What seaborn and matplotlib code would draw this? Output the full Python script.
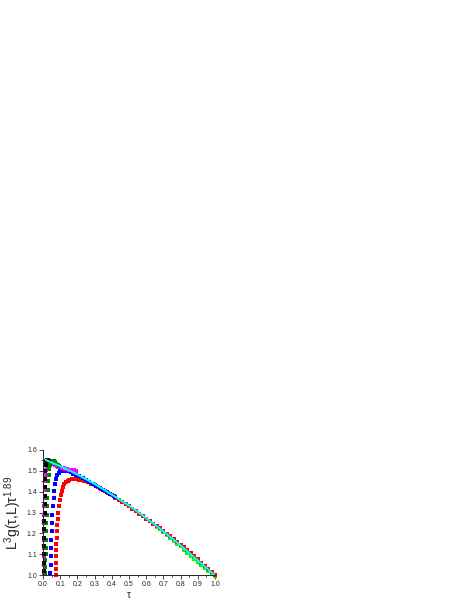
import pandas as pd
import matplotlib
matplotlib.use("Agg")
import matplotlib.pyplot as plt
import seaborn as sns
from matplotlib.ticker import MultipleLocator, FormatStrFormatter

# values
red_tau = [0.073, 0.074, 0.075, 0.076, 0.077, 0.078, 0.080, 0.082, 0.084, 0.087,
           0.090, 0.094, 0.098, 0.103, 0.109, 0.116, 0.124, 0.133, 0.143, 0.154,
           0.166, 0.179, 0.193, 0.208, 0.224, 0.24, 0.26, 0.28, 0.30, 0.32,
           0.34, 0.36, 0.38, 0.40, 0.42, 0.44, 0.46, 0.48, 0.50, 0.52,
           0.54, 0.56, 0.58, 0.60, 0.62, 0.64, 0.66, 0.68, 0.70, 0.72,
           0.74, 0.76, 0.78, 0.80, 0.82, 0.84, 0.86, 0.88, 0.90, 0.92,
           0.94, 0.96, 0.98, 1.00]
red_y = [1.00, 1.03, 1.06, 1.09, 1.12, 1.15, 1.18, 1.21, 1.24, 1.27,
         1.30, 1.33, 1.36, 1.385, 1.405, 1.422, 1.435, 1.445, 1.452, 1.457,
         1.460, 1.461, 1.460, 1.458, 1.455, 1.451, 1.445, 1.438, 1.430, 1.421,
         1.412, 1.403, 1.393, 1.383, 1.372, 1.361, 1.350, 1.340, 1.329, 1.318,
         1.306, 1.295, 1.283, 1.271, 1.259, 1.247, 1.236, 1.224, 1.211, 1.198,
         1.185, 1.172, 1.159, 1.146, 1.133, 1.119, 1.105, 1.090, 1.075, 1.060,
         1.045, 1.030, 1.015, 1.000]

blue_tau = [0.043, 0.044, 0.045, 0.046, 0.048, 0.050, 0.052, 0.055, 0.058, 0.062,
            0.066, 0.071, 0.077, 0.084, 0.092, 0.101, 0.111, 0.122, 0.134, 0.147,
            0.161, 0.176, 0.19, 0.21, 0.23, 0.25, 0.27, 0.29, 0.31, 0.33,
            0.35, 0.37, 0.39, 0.41, 0.42]
blue_y = [1.01, 1.05, 1.09, 1.13, 1.17, 1.21, 1.25, 1.29, 1.33, 1.37,
          1.405, 1.435, 1.46, 1.478, 1.490, 1.497, 1.501, 1.502, 1.501, 1.498,
          1.493, 1.487, 1.481, 1.474, 1.465, 1.456, 1.447, 1.438, 1.429, 1.419,
          1.410, 1.400, 1.390, 1.380, 1.376]

magenta_tau = [0.003, 0.003, 0.004, 0.004, 0.005, 0.005, 0.006, 0.007, 0.008, 0.009,
               0.010, 0.012, 0.014, 0.017, 0.021, 0.026, 0.032, 0.04, 0.05, 0.06,
               0.07, 0.08, 0.09, 0.10, 0.11, 0.12, 0.13, 0.14, 0.15, 0.16,
               0.17, 0.18, 0.19]
magenta_y = [1.01, 1.05, 1.09, 1.13, 1.17, 1.21, 1.25, 1.29, 1.33, 1.37,
             1.41, 1.45, 1.48, 1.505, 1.522, 1.532, 1.537, 1.537, 1.535, 1.531,
             1.527, 1.523, 1.520, 1.517, 1.514, 1.512, 1.510, 1.508, 1.506, 1.505,
             1.503, 1.502, 1.500]

dgreen_tau = [0.012, 0.013, 0.014, 0.015, 0.016, 0.017, 0.018, 0.019, 0.021, 0.023,
              0.025, 0.027, 0.030, 0.033, 0.037, 0.042, 0.048, 0.055, 0.062, 0.07,
              0.078, 0.086, 0.095]
dgreen_y = [1.01, 1.04, 1.07, 1.10, 1.13, 1.17, 1.21, 1.25, 1.29, 1.33,
            1.37, 1.41, 1.45, 1.48, 1.51, 1.53, 1.543, 1.547, 1.545, 1.540,
            1.535, 1.530, 1.524]

black_tau = [0.006, 0.006, 0.007, 0.007, 0.007, 0.008, 0.008, 0.009, 0.009, 0.010,
             0.011, 0.012, 0.014, 0.016, 0.019, 0.022, 0.026, 0.030, 0.034]
black_y = [1.02, 1.06, 1.10, 1.14, 1.18, 1.22, 1.26, 1.30, 1.34, 1.38,
           1.42, 1.46, 1.50, 1.53, 1.545, 1.552, 1.553, 1.551, 1.549]

cyan_tau = [0.015, 0.05, 0.10, 0.15, 0.20, 0.25, 0.30, 0.35, 0.40, 0.45,
            0.50, 0.55, 0.60, 0.65, 0.70, 0.75, 0.80, 0.85, 0.90, 0.95, 1.00]
cyan_y = [1.553, 1.540, 1.522, 1.503, 1.482, 1.460, 1.437, 1.412, 1.386, 1.360,
          1.333, 1.304, 1.272, 1.242, 1.209, 1.176, 1.142, 1.106, 1.070, 1.034, 0.998]

lgreen_tau = [0.30, 0.32, 0.34, 0.36, 0.38, 0.40, 0.42, 0.44, 0.46, 0.48,
              0.50, 0.52, 0.54, 0.56, 0.58, 0.60, 0.62, 0.64, 0.66, 0.68,
              0.70, 0.72, 0.74, 0.76, 0.78, 0.80, 0.82, 0.84, 0.86, 0.88,
              0.90, 0.92, 0.94, 0.96, 0.98, 1.00]
lgreen_y = [1.434, 1.424, 1.414, 1.404, 1.393, 1.383, 1.372, 1.362, 1.351, 1.340,
            1.330, 1.318, 1.306, 1.295, 1.283, 1.270, 1.258, 1.245, 1.232, 1.219,
            1.206, 1.192, 1.179, 1.165, 1.151, 1.137, 1.122, 1.108, 1.093, 1.078,
            1.064, 1.049, 1.034, 1.020, 1.006, 0.994]

sns.set_style("ticks")
plt.rcParams['font.family'] = ['Liberation Sans', 'DejaVu Sans']
plt.rcParams['mathtext.fontset'] = 'custom'
plt.rcParams['mathtext.rm'] = 'Liberation Sans'
plt.rcParams['mathtext.it'] = 'Liberation Sans'

fig = plt.figure(figsize=(4.71, 6.09), dpi=100)
ax = fig.add_axes([0.0913, 0.0558, 0.3652, 0.2053])

series = [
    (lgreen_tau, lgreen_y, "#00ff00"),
    (red_tau, red_y, "#ff0000"),
    (blue_tau, blue_y, "#0000ff"),
    (magenta_tau, magenta_y, "#ff00ff"),
    (dgreen_tau, dgreen_y, "#008000"),
    (black_tau, black_y, "#000000"),
]
for tau, y, color in series:
    df = pd.DataFrame({"tau": tau, "y": y})
    sns.scatterplot(data=df, x="tau", y="y", ax=ax, marker="s", s=6,
                    color=color, linewidth=0, clip_on=False)

cyan_df = pd.DataFrame({"tau": cyan_tau, "y": cyan_y})
sns.lineplot(data=cyan_df, x="tau", y="y", ax=ax, color="#00ffff", lw=1.5)

ax.set_xlim(0, 1.0)
ax.set_ylim(1.0, 1.6)
ax.xaxis.set_major_locator(MultipleLocator(0.1))
ax.xaxis.set_minor_locator(MultipleLocator(0.05))
ax.yaxis.set_major_locator(MultipleLocator(0.1))
ax.yaxis.set_minor_locator(MultipleLocator(0.05))
ax.tick_params(which="major", length=3, width=0.6, labelsize=5, pad=1.5)
ax.tick_params(which="minor", length=1.5, width=0.6)
ax.xaxis.set_major_formatter(FormatStrFormatter("%.1f"))
ax.yaxis.set_major_formatter(FormatStrFormatter("%.1f"))
sns.despine(ax=ax)
for sp in ax.spines.values():
    sp.set_linewidth(0.7)

ax.set_xlabel(r"$\tau$", fontsize=7, labelpad=1)
ax.set_ylabel(r"L$^3$g($\tau$,L)$\tau^{1.89}$", fontsize=10, labelpad=2)

plt.savefig("out.png", dpi=100)
